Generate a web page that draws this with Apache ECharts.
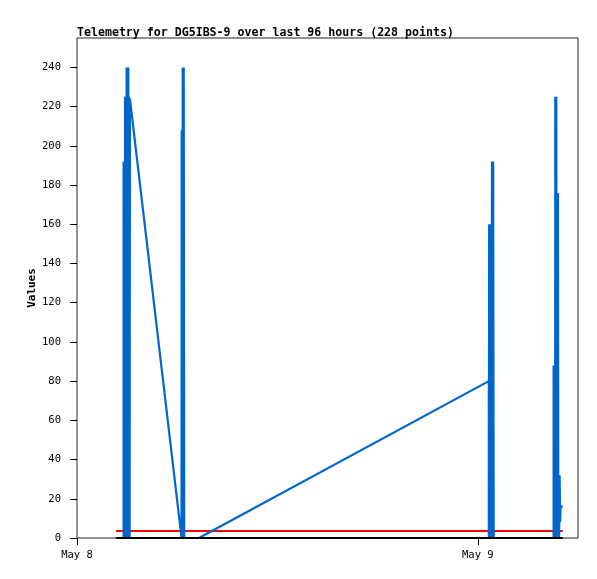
<!DOCTYPE html>
<html><head><meta charset="utf-8">
<script src="https://cdn.jsdelivr.net/npm/echarts@6/dist/echarts.min.js"></script>
<style>html,body{margin:0;padding:0;background:#fff}#c{width:597px;height:579px}</style>
</head><body><div id="c"></div>
<script>
// time in hours since May 8 00:00, value
const telemetryPoints = [
  [2.79,0],[2.79,192],[2.82,0],[2.85,192],[2.88,0],[2.88,225],[2.91,0],[2.93,225],[2.96,0],[2.97,240],[3.00,0],[3.02,240],[3.05,0],[3.07,240],[3.10,0],[3.12,225],[3.15,0],[3.17,224],
  [6.22,3],[6.26,0],[6.27,208],[6.30,0],[6.33,240],[6.36,0],[6.39,240],[6.42,0],[7.30,0],
  [24.66,80],[24.66,0],[24.68,160],[24.71,0],[24.73,160],[24.76,0],[24.79,160],[24.82,0],[24.85,192],[24.88,0],[24.92,192],[24.95,0],
  [28.54,0],[28.54,88],[28.57,0],[28.60,88],[28.63,0],[28.64,225],[28.67,0],[28.70,225],[28.73,0],[28.75,176],[28.78,0],[28.80,176],[28.82,0],[28.84,32],[28.87,0],[28.90,32],[28.93,8],[28.95,16],[29.09,16]
];
const thresholdPoints = [[2.33,3.6],[29.09,3.6]];
const zeroPoints = [[2.33,0],[29.09,0]];
const dayLabels = ['May 8','May 9'];
const dayTicks = [0,24];
const valueTicks = [0,20,40,60,80,100,120,140,160,180,200,220,240];
const titleText = 'Telemetry for DG5IBS-9 over last 96 hours (228 points)';
const yName = 'Values';

const mono = 'DejaVu Sans Mono';
const chart = echarts.init(document.getElementById('c'), null, {renderer:'canvas'});
chart.setOption({
  animation:false,
  title:{text:titleText,left:72,top:22,textStyle:{fontFamily:mono,fontSize:11.6,fontWeight:'bold',color:'#000'}},
  grid:{left:77,right:19,top:38,bottom:41,show:true,borderColor:'#222',borderWidth:1,backgroundColor:'transparent'},
  xAxis:{type:'value',min:0,max:30,
    axisLine:{show:false},splitLine:{show:false},
    axisTick:{show:true,length:7,lineStyle:{color:'#000'},customValues:dayTicks},
    axisLabel:{margin:12,fontFamily:mono,fontSize:10.5,color:'#000',customValues:dayTicks,
      formatter:v=>dayLabels[Math.round(v/24)]||''}
  },
  yAxis:{type:'value',min:0,max:255,name:yName,nameLocation:'middle',nameGap:39,nameMoveOverlap:false,
    nameTextStyle:{fontFamily:mono,fontSize:11,fontWeight:'bold',color:'#000'},
    axisLine:{show:false},splitLine:{show:false},
    axisTick:{show:true,length:7,lineStyle:{color:'#000'},customValues:valueTicks},
    axisLabel:{margin:16,fontFamily:mono,fontSize:10.5,color:'#000',customValues:valueTicks}
  },
  series:[
    {type:'line',data:thresholdPoints,symbol:'none',lineStyle:{color:'#ff0000',width:2},z:2},
    {type:'line',data:telemetryPoints,symbol:'none',lineStyle:{color:'#0066cc',width:2.2},z:3},
    {type:'line',data:zeroPoints,symbol:'none',lineStyle:{color:'#000000',width:2},z:4}
  ]
});
</script></body></html>
